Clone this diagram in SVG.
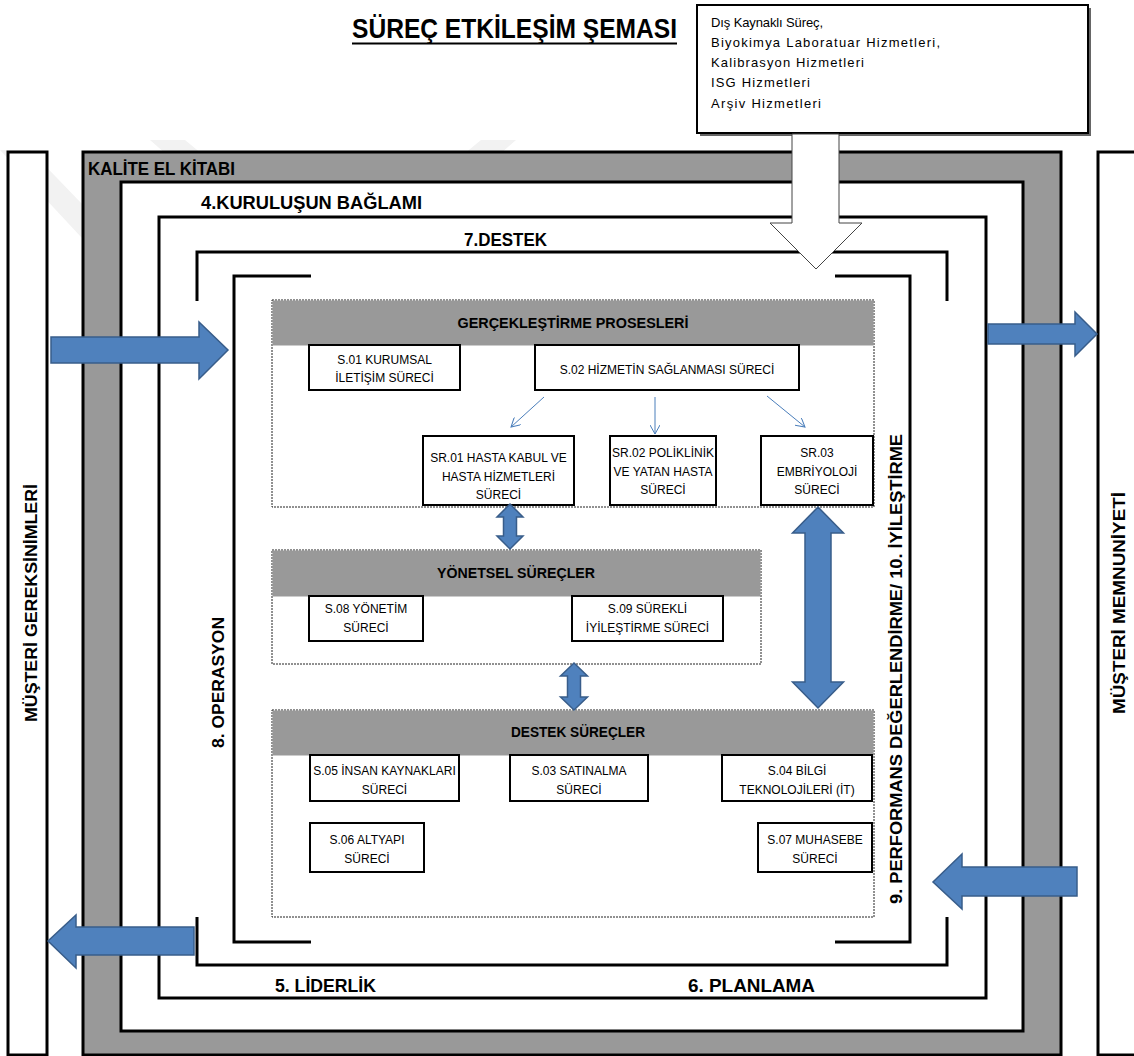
<svg xmlns="http://www.w3.org/2000/svg" width="1134" height="1056" viewBox="0 0 1134 1056">
  <defs>
    <style>
      text { font-family: "Liberation Sans", Arial, sans-serif; fill: #000; }
      .h { font-weight: bold; }
      .lbl { font-size: 12px; text-anchor: middle; }
      .frame { fill: #fff; stroke: #000; stroke-width: 3; }
      .line { fill: none; stroke: #000; stroke-width: 3; }
      .box { fill: #fff; stroke: #000; stroke-width: 2; }
      .group { fill: #fff; stroke: #222; stroke-width: 1; stroke-dasharray: 2 1; }
      .band { fill: #999; }
      .blk { fill: #4f81bd; stroke: #385d8a; stroke-width: 1.5; stroke-linejoin: miter; }
      .thin { fill: none; stroke: #4a7ebb; stroke-width: 1; marker-end: url(#open); }
      .wm { fill: #f2f2f2; }
    </style>
    <marker id="open" viewBox="0 0 10 10" refX="9" refY="5" markerWidth="10" markerHeight="10" markerUnits="userSpaceOnUse" orient="auto">
      <path d="M0,0 L9,5 L0,10" fill="none" stroke="#4a7ebb" stroke-width="1"/>
    </marker>
  </defs>

  <rect width="1134" height="1056" fill="#fff"/>

  <!-- faint background emblem -->
  <g id="emblem">
    <polygon class="wm" points="150,140 185,140 333,262 481,140 516,140 333,300"/>
    <polygon class="wm" points="0,150 30,150 300,430 270,440"/>
  </g>

  <!-- title -->
  <g id="title">
    <text class="h" x="352" y="38" font-size="27" textLength="325" lengthAdjust="spacingAndGlyphs">SÜREÇ ETKİLEŞİM ŞEMASI</text>
    <line x1="352" y1="43.5" x2="677" y2="43.5" stroke="#000" stroke-width="2"/>
  </g>

  <!-- outsourced services -->
  <g id="outsourced">
    <rect x="700" y="8" width="391" height="128" fill="#666"/>
    <rect class="box" x="697" y="5" width="391" height="128"/>
    <text x="711" y="27" font-size="13" textLength="112" lengthAdjust="spacing">Dış Kaynaklı Süreç,</text>
    <text x="711" y="47" font-size="13" textLength="229" lengthAdjust="spacing">Biyokimya Laboratuar Hizmetleri,</text>
    <text x="711" y="67" font-size="13" textLength="153" lengthAdjust="spacing">Kalibrasyon Hizmetleri</text>
    <text x="711" y="87" font-size="13" textLength="99" lengthAdjust="spacing">ISG Hizmetleri</text>
    <text x="711" y="108" font-size="13" textLength="110" lengthAdjust="spacing">Arşiv Hizmetleri</text>
  </g>

  <!-- customer columns -->
  <g id="requirements">
    <rect class="frame" x="8" y="152" width="39" height="903"/>
    <text class="h" font-size="17" transform="translate(37,722) rotate(-90)" textLength="238" lengthAdjust="spacingAndGlyphs">MÜŞTERİ GEREKSİNİMLERİ</text>
  </g>
  <g id="satisfaction">
    <rect class="frame" x="1098" y="152" width="50" height="903"/>
    <text class="h" font-size="17" transform="translate(1125,714) rotate(-90)" textLength="222" lengthAdjust="spacingAndGlyphs">MÜŞTERİ MEMNUNİYETİ</text>
  </g>

  <!-- nested clause frames -->
  <g id="quality-manual">
    <rect x="83" y="152" width="978" height="903" fill="#999" stroke="#000" stroke-width="3"/>
    <text class="h" x="88" y="175" font-size="18" textLength="147" lengthAdjust="spacingAndGlyphs">KALİTE EL KİTABI</text>
  </g>
  <g id="context">
    <rect class="frame" x="121" y="182" width="902" height="849"/>
    <text class="h" x="201" y="209" font-size="18" textLength="221" lengthAdjust="spacingAndGlyphs">4.KURULUŞUN BAĞLAMI</text>
  </g>
  <g id="leadership-planning">
    <rect class="frame" x="159" y="217" width="827" height="781"/>
    <text class="h" x="275" y="992" font-size="18" textLength="101" lengthAdjust="spacingAndGlyphs">5. LİDERLİK</text>
    <text class="h" x="688" y="992" font-size="18" textLength="127" lengthAdjust="spacingAndGlyphs">6. PLANLAMA</text>
  </g>
  <g id="support">
    <path class="line" d="M197,301 V252 H947 V301 M197,917 V965 H947 V917"/>
    <text class="h" x="464" y="246" font-size="18" textLength="83" lengthAdjust="spacingAndGlyphs">7.DESTEK</text>
  </g>
  <g id="operation">
    <path class="line" d="M311,276 H234 V942 H311 M835,276 H910 V942 H835"/>
    <text class="h" font-size="17" transform="translate(224,748) rotate(-90)" textLength="131" lengthAdjust="spacingAndGlyphs">8. OPERASYON</text>
  </g>
  <g id="evaluation">
    <text class="h" font-size="16" transform="translate(902,904) rotate(-90)" textLength="470" lengthAdjust="spacingAndGlyphs">9. PERFORMANS DEĞERLENDİRME/ 10. İYİLEŞTİRME</text>
  </g>

  <!-- realisation processes -->
  <g id="realisation">
    <rect class="group" x="272" y="300" width="602" height="207"/>
    <rect class="band" x="272.5" y="300.5" width="601" height="45"/>
    <text class="h" x="573" y="328" font-size="14" text-anchor="middle" textLength="231" lengthAdjust="spacingAndGlyphs">GERÇEKLEŞTİRME PROSESLERİ</text>
  </g>
  <g id="s01">
    <rect class="box" x="309" y="345" width="151" height="45"/>
    <text class="lbl" x="384.5" y="364">S.01 KURUMSAL</text>
    <text class="lbl" x="384.5" y="382">İLETİŞİM SÜRECİ</text>
  </g>
  <g id="s02">
    <rect class="box" x="535" y="345" width="264" height="45"/>
    <text class="lbl" x="667" y="374">S.02 HİZMETİN SAĞLANMASI SÜRECİ</text>
  </g>
  <g id="sr01">
    <rect class="box" x="423" y="436" width="151" height="69"/>
    <text class="lbl" x="498.5" y="462">SR.01 HASTA KABUL VE</text>
    <text class="lbl" x="498.5" y="481">HASTA HİZMETLERİ</text>
    <text class="lbl" x="498.5" y="499">SÜRECİ</text>
  </g>
  <g id="sr02">
    <rect class="box" x="610" y="436" width="106" height="69"/>
    <text class="lbl" x="663" y="457">SR.02 POLİKLİNİK</text>
    <text class="lbl" x="663" y="476">VE YATAN HASTA</text>
    <text class="lbl" x="663" y="494">SÜRECİ</text>
  </g>
  <g id="sr03">
    <rect class="box" x="761" y="436" width="112" height="69"/>
    <text class="lbl" x="817" y="457">SR.03</text>
    <text class="lbl" x="817" y="476">EMBRİYOLOJİ</text>
    <text class="lbl" x="817" y="494">SÜRECİ</text>
  </g>

  <!-- management processes -->
  <g id="management">
    <rect class="group" x="272" y="550" width="489" height="114"/>
    <rect class="band" x="272.5" y="550.5" width="488" height="46"/>
    <text class="h" x="516" y="578" font-size="14" text-anchor="middle" textLength="158" lengthAdjust="spacingAndGlyphs">YÖNETSEL SÜREÇLER</text>
  </g>
  <g id="s08">
    <rect class="box" x="309" y="596" width="114" height="45"/>
    <text class="lbl" x="366" y="613">S.08 YÖNETİM</text>
    <text class="lbl" x="366" y="632">SÜRECİ</text>
  </g>
  <g id="s09">
    <rect class="box" x="572" y="596" width="151" height="45"/>
    <text class="lbl" x="647.5" y="613">S.09 SÜREKLİ</text>
    <text class="lbl" x="647.5" y="632">İYİLEŞTİRME SÜRECİ</text>
  </g>

  <!-- support processes -->
  <g id="supporting">
    <rect class="group" x="272" y="710" width="602" height="207"/>
    <rect class="band" x="272.5" y="710.5" width="601" height="45"/>
    <text class="h" x="578" y="737" font-size="14" text-anchor="middle" textLength="134" lengthAdjust="spacingAndGlyphs">DESTEK SÜREÇLER</text>
  </g>
  <g id="s05">
    <rect class="box" x="310" y="755" width="149" height="46"/>
    <text class="lbl" x="384.5" y="775">S.05 İNSAN KAYNAKLARI</text>
    <text class="lbl" x="384.5" y="794">SÜRECİ</text>
  </g>
  <g id="s03">
    <rect class="box" x="510" y="755" width="138" height="46"/>
    <text class="lbl" x="579" y="775">S.03 SATINALMA</text>
    <text class="lbl" x="579" y="794">SÜRECİ</text>
  </g>
  <g id="s04">
    <rect class="box" x="722" y="755" width="150" height="46"/>
    <text class="lbl" x="797" y="775">S.04 BİLGİ</text>
    <text class="lbl" x="797" y="794">TEKNOLOJİLERİ (İT)</text>
  </g>
  <g id="s06">
    <rect class="box" x="310" y="823" width="114" height="49"/>
    <text class="lbl" x="367" y="844">S.06 ALTYAPI</text>
    <text class="lbl" x="367" y="863">SÜRECİ</text>
  </g>
  <g id="s07">
    <rect class="box" x="758" y="823" width="114" height="49"/>
    <text class="lbl" x="815" y="844">S.07 MUHASEBE</text>
    <text class="lbl" x="815" y="863">SÜRECİ</text>
  </g>

  <!-- connectors -->
  <g id="connectors">
    <polygon points="792,134 839,134 839,223 862,223 816,269 770,223 792,223" fill="#fff" stroke="#444" stroke-width="1"/>
    <line class="thin" x1="544" y1="397" x2="511" y2="427"/>
    <line class="thin" x1="655" y1="397" x2="655" y2="434"/>
    <line class="thin" x1="767" y1="396" x2="805" y2="427"/>
    <polygon class="blk" points="510,504 523,517 516.5,517 516.5,536 523,536 510,549 497,536 503.5,536 503.5,517 497,517"/>
    <polygon class="blk" points="574,663 587.5,676 580.5,676 580.5,697 587.5,697 574,710 560.5,697 567.5,697 567.5,676 560.5,676"/>
    <polygon class="blk" points="818,507 843.5,533 831,533 831,682 843.5,682 818,708 792.5,682 805,682 805,533 792.5,533"/>
    <polygon class="blk" points="51,337 199,337 199,322 228,350 199,379 199,363 51,363"/>
    <polygon class="blk" points="988,324 1075,324 1075,312 1097,334 1075,356 1075,344 988,344"/>
    <polygon class="blk" points="194,927 76,927 76,915 48,941 76,968 76,955 194,955"/>
    <polygon class="blk" points="1077,867 962,867 962,854 933,882 962,909 962,896 1077,896"/>
  </g>
</svg>
